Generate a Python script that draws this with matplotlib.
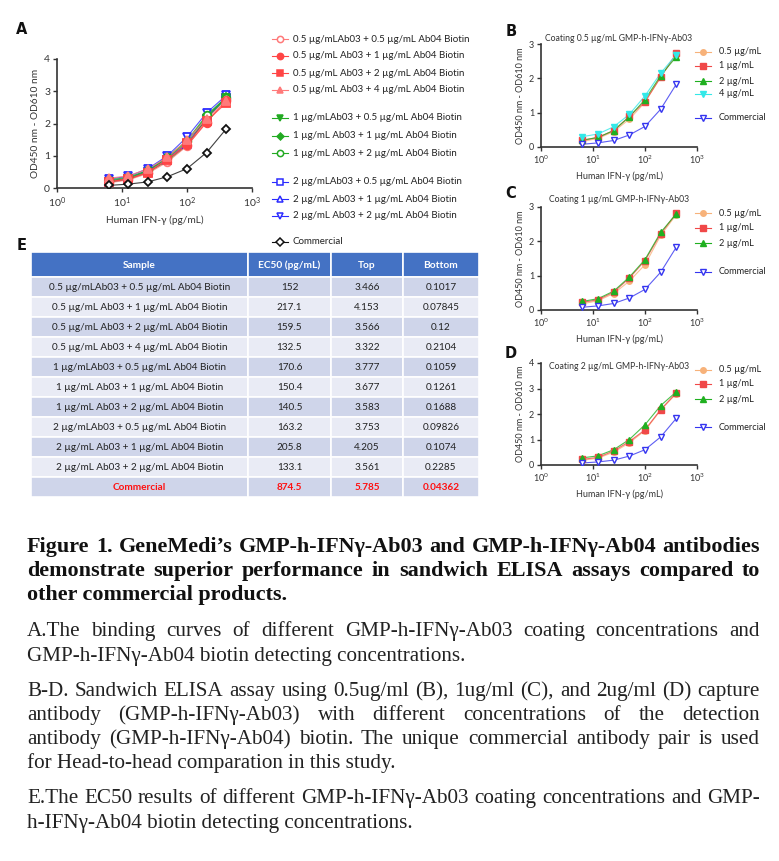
import matplotlib
matplotlib.use('Agg')
import matplotlib.pyplot as plt
from matplotlib.patches import Rectangle
from matplotlib.ticker import NullLocator

W, H = 779, 861
plt.rcParams['font.family'] = ['Lato', 'DejaVu Sans']

# ---------------- data ----------------
conc = [6.25, 12.5, 25, 50, 100, 200, 400]   # Human IFN-g (pg/mL)

# Coating 0.5 ug/mL Ab03 + detection Ab04 biotin
b_05 = [0.16, 0.25, 0.45, 0.81, 1.30, 2.05, 2.69]
b_1 = [0.19, 0.28, 0.48, 0.89, 1.32, 2.03, 2.73]
b_2 = [0.20, 0.28, 0.48, 0.88, 1.38, 2.08, 2.63]
b_4 = [0.30, 0.38, 0.59, 0.95, 1.49, 2.15, 2.69]
# Coating 1 ug/mL
c_05 = [0.18, 0.27, 0.48, 0.84, 1.32, 2.17, 2.78]
c_1 = [0.22, 0.30, 0.52, 0.93, 1.44, 2.22, 2.82]
c_2 = [0.25, 0.33, 0.55, 0.96, 1.47, 2.26, 2.80]
# Coating 2 ug/mL
d_05 = [0.18, 0.27, 0.50, 0.87, 1.35, 2.15, 2.80]
d_1 = [0.22, 0.30, 0.55, 0.92, 1.38, 2.17, 2.83]
d_2 = [0.28, 0.36, 0.60, 1.00, 1.58, 2.33, 2.87]
commercial = [0.08, 0.12, 0.19, 0.35, 0.60, 1.10, 1.83]

a_labels = [
    "0.5 µg/mLAb03 + 0.5 µg/mL Ab04 Biotin",
    "0.5 µg/mL Ab03 + 1 µg/mL Ab04 Biotin",
    "0.5 µg/mL Ab03 + 2 µg/mL Ab04 Biotin",
    "0.5 µg/mL Ab03 + 4 µg/mL Ab04 Biotin",
    "1 µg/mLAb03 + 0.5 µg/mL Ab04 Biotin",
    "1 µg/mL Ab03 + 1 µg/mL Ab04 Biotin",
    "1 µg/mL Ab03 + 2 µg/mL Ab04 Biotin",
    "2 µg/mLAb03 + 0.5 µg/mL Ab04 Biotin",
    "2 µg/mL Ab03 + 1 µg/mL Ab04 Biotin",
    "2 µg/mL Ab03 + 2 µg/mL Ab04 Biotin",
    "Commercial",
]
det_labels = ["0.5 µg/mL", "1 µg/mL", "2 µg/mL", "4 µg/mL"]

tbl_header = ["Sample", "EC50 (pg/mL)", "Top", "Bottom"]
tbl_sample = a_labels
tbl_ec50 = [152, 217.1, 159.5, 132.5, 170.6, 150.4, 140.5, 163.2, 205.8, 133.1, 874.5]
tbl_top = [3.466, 4.153, 3.566, 3.322, 3.777, 3.677, 3.583, 3.753, 4.205, 3.561, 5.785]
tbl_bottom = [0.1017, 0.07845, 0.12, 0.2104, 0.1059, 0.1261, 0.1688, 0.09826, 0.1074, 0.2285, 0.04362]

# ---------------- figure ----------------
fig = plt.figure(figsize=(W / 100, H / 100), dpi=100)


def px_axes(x0, y0, x1, y1):
    return fig.add_axes([x0 / W, 1 - y1 / H, (x1 - x0) / W, (y1 - y0) / H])


def style(ax, ymax, fs=6.5):
    ax.set_xscale('log')
    ax.set_xlim(1, 1000)
    ax.set_ylim(0, ymax)
    ax.set_xticks([1, 10, 100, 1000])
    ax.set_yticks(list(range(0, ymax + 1)))
    ax.xaxis.set_minor_locator(NullLocator())
    for s in ['top', 'right']:
        ax.spines[s].set_visible(False)
    for s in ['left', 'bottom']:
        ax.spines[s].set_linewidth(1.2)
        ax.spines[s].set_color('#333333')
    ax.tick_params(which='major', length=3, width=1.0, labelsize=fs, pad=2,
                   color='#333333', labelcolor='#333333')
    ax.set_facecolor('none')


# Panel A styles: (data, color, marker, filled)
red_l = '#FF7A7A'
red = '#FF4545'
green = '#22AA22'
blue = '#2B2BFF'
a_series = [
    (b_05, red_l, 'o', False),
    (b_1, red, 'o', True),
    (b_2, red, 's', True),
    (b_4, red_l, '^', True),
    (c_05, green, 'v', True),
    (c_1, green, 'D', True),
    (c_2, green, 'o', False),
    (d_05, blue, 's', False),
    (d_1, blue, '^', False),
    (d_2, blue, 'v', False),
    (commercial, '#111111', 'D', False),
]

axA = px_axes(57, 59, 252, 188)
style(axA, 4, fs=7.5)
order = [7, 8, 9, 4, 5, 6, 0, 1, 2, 3, 10]
for i in order:
    ys, col, mk, filled = a_series[i]
    ms = 4 if mk == 'D' and i != 10 else 5.5
    if i == 10:
        ms = 4.5
    axA.plot(conc, ys, color=col, lw=0.8, alpha=0.8, zorder=2)
    axA.plot(conc, ys, ls='none', marker=mk, ms=ms, mec=col,
             mfc=col if filled else 'white', mew=1.3, zorder=3)
axA.set_xlabel("Human IFN-γ (pg/mL)", fontsize=7.3, color='#333333', labelpad=4)
axA.set_ylabel("OD450 nm - OD610 nm", fontsize=7.3, color='#333333', labelpad=3)

# Panels B-D
orange = '#F7B27A'
redB = '#F04848'
greenB = '#20B020'
cyan = '#33E8E8'
blueC = '#3535F0'
bd_styles = [(orange, 'o'), (redB, 's'), (greenB, '^'), (cyan, 'v')]


def panel(ax, series, ymax, title, title_y):
    style(ax, ymax)
    for ys, (col, mk) in zip(series, bd_styles):
        ax.plot(conc, ys, color=col, lw=0.8, alpha=0.8, zorder=2)
        ax.plot(conc, ys, ls='none', marker=mk, ms=4, mec=col, mfc=col, zorder=3)
    ax.plot(conc, commercial, color=blueC, lw=0.8, alpha=0.8, zorder=2)
    ax.plot(conc, commercial, ls='none', marker='v', ms=4.5, mec=blueC,
            mfc='white', mew=1.0, zorder=3)
    ax.set_xlabel("Human IFN-γ (pg/mL)", fontsize=6.5, color='#333333', labelpad=4)
    ax.set_ylabel("OD450 nm - OD610 nm", fontsize=6.5, color='#333333', labelpad=3)
    ax.text(0.5, title_y, title, transform=ax.transAxes, ha='center', va='center',
            fontsize=6.2, color='#333333')


axB = px_axes(541, 44, 697, 147)
panel(axB, [b_05, b_1, b_2, b_4], 3, "Coating 0.5 µg/mL GMP-h-IFNγ-Ab03", 1.05)
axC = px_axes(541, 207, 697, 310)
panel(axC, [c_05, c_1, c_2], 3, "Coating 1 µg/mL GMP-h-IFNγ-Ab03", 1.07)
axD = px_axes(541, 363, 697, 465)
panel(axD, [d_05, d_1, d_2], 4, "Coating 2 µg/mL GMP-h-IFNγ-Ab03", 0.97)

# ---------------- overlay (legends, table, caption) ----------------
ov = fig.add_axes([0, 0, 1, 1], zorder=10)
ov.set_xlim(0, W)
ov.set_ylim(H, 0)
ov.axis('off')
ov.patch.set_alpha(0)

# panel letters
for lab, (x, y) in zip("ABCDE", [(22, 30), (511, 31), (511, 193), (511, 353), (22, 246)]):
    ov.text(x, y, lab, fontsize=10.5, fontweight='bold', ha='center', va='center',
            color='#111111', family=['DejaVu Sans'])

# legend A
a_leg_y = [39, 56, 73, 90, 118, 136, 153, 182, 199, 216, 242]
for (ys, col, mk, filled), lab, y in zip(a_series, a_labels, a_leg_y):
    ms = 3.5 if (mk == 'D' and col != '#111111') else 4.5
    ov.plot([272, 288], [y, y], color=col, lw=0.8)
    ov.plot([280], [y], marker=mk, ms=ms, mec=col, mfc=col if filled else 'white', mew=1.1)
    ov.text(293, y, lab, fontsize=7, va='center', ha='left', color='#222222')


def bd_legend(ys_list, y_com, n):
    for (col, mk), lab, y in zip(bd_styles[:n], det_labels[:n], ys_list):
        ov.plot([695, 711], [y, y], color=col, lw=0.8)
        ov.plot([703], [y], marker=mk, ms=4, mec=col, mfc=col)
        ov.text(719, y, lab, fontsize=6.6, va='center', ha='left', color='#222222')
    ov.plot([695, 711], [y_com, y_com], color=blueC, lw=0.8)
    ov.plot([703], [y_com], marker='v', ms=4.5, mec=blueC, mfc='white', mew=1.0)
    ov.text(719, y_com, "Commercial", fontsize=6.6, va='center', ha='left', color='#222222')


bd_legend([52, 66, 81, 94], 118, 4)
bd_legend([213, 228, 243], 272, 3)
bd_legend([370, 384, 399], 427, 3)

# table E
col_edges = [31, 248, 331, 403, 479]
row_edges = [252, 277, 297, 317, 337, 357, 377, 397, 417, 437, 457, 477, 497]
for j in range(4):
    x0, x1 = col_edges[j], col_edges[j + 1]
    ov.add_patch(Rectangle((x0, row_edges[0]), x1 - x0, row_edges[1] - row_edges[0],
                           facecolor='#4472C4', edgecolor='white', lw=1.2))
    ov.text((x0 + x1) / 2, (row_edges[0] + row_edges[1]) / 2 + 0.5, tbl_header[j],
            fontsize=7.3, fontweight='bold', color='white', ha='center', va='center')
for i in range(len(tbl_sample)):
    y0, y1 = row_edges[i + 1], row_edges[i + 2]
    fc = '#CFD5EA' if i % 2 == 0 else '#E9EBF5'
    last = (i == len(tbl_sample) - 1)
    vals = [tbl_sample[i], '{:g}'.format(tbl_ec50[i]), '{:g}'.format(tbl_top[i]),
            '{:g}'.format(tbl_bottom[i])]
    for j in range(4):
        x0, x1 = col_edges[j], col_edges[j + 1]
        ov.add_patch(Rectangle((x0, y0), x1 - x0, y1 - y0, facecolor=fc,
                               edgecolor='white', lw=1.2))
        ov.text((x0 + x1) / 2, (y0 + y1) / 2 + 0.5, vals[j], fontsize=7.2,
                color='#FF1010' if last else '#222222',
                fontweight='bold' if last else 'normal', ha='center', va='center')

# caption
renderer = fig.canvas.get_renderer()
LEFT, RIGHT = 27, 760
serif = ['Liberation Serif', 'DejaVu Serif']


def text_w(s, **kw):
    t = ov.text(0, 0, s, **kw)
    w = t.get_window_extent(renderer).width
    t.remove()
    return w


def fit_size(lines, base=10, **kw):
    ws = [text_w(s, fontsize=base, **kw) for s in lines]
    return base * (RIGHT - LEFT) / max(ws) * 0.995


def draw_line(s, y, justify, **kw):
    if not justify:
        ov.text(LEFT, y, s, ha='left', va='baseline', **kw)
        return
    words = s.split(' ')
    ws = [text_w(w, **kw) for w in words]
    gap = (RIGHT - LEFT - sum(ws)) / (len(words) - 1)
    x = LEFT
    for w, wd in zip(words, ws):
        ov.text(x, y, w, ha='left', va='baseline', **kw)
        x += wd + gap


title_lines = [
    "Figure 1. GeneMedi’s GMP-h-IFNγ-Ab03 and GMP-h-IFNγ-Ab04 antibodies",
    "demonstrate superior performance in sandwich ELISA assays compared to",
    "other commercial products.",
]
paras = [
    (["A.The binding curves of different GMP-h-IFNγ-Ab03 coating concentrations and",
      "GMP-h-IFNγ-Ab04 biotin detecting concentrations."], [636, 660.5]),
    (["B-D. Sandwich ELISA assay using 0.5ug/ml (B), 1ug/ml (C), and 2ug/ml (D) capture",
      "antibody (GMP-h-IFNγ-Ab03) with different concentrations of the detection",
      "antibody (GMP-h-IFNγ-Ab04) biotin. The unique commercial antibody pair is used",
      "for Head-to-head comparation in this study."], [696, 720, 744, 768]),
    (["E.The EC50 results of different GMP-h-IFNγ-Ab03 coating concentrations and GMP-",
      "h-IFNγ-Ab04 biotin detecting concentrations."], [803, 828]),
]

bfs = min(fit_size(title_lines[:2], fontweight='bold', family=serif), 17)
bold_kw = dict(fontsize=bfs, fontweight='bold', family=serif, color='#111111')
just_lines = [l for lines, _ in paras for l in lines[:-1]]
nfs = min(fit_size(just_lines, family=serif), 16)
norm_kw = dict(fontsize=nfs, family=serif, color='#222222')

for k, (s, y) in enumerate(zip(title_lines, [552, 576, 600])):
    draw_line(s, y, k < 2, **bold_kw)
for lines, ys in paras:
    for k, (s, y) in enumerate(zip(lines, ys)):
        draw_line(s, y, k < len(lines) - 1, **norm_kw)

fig.savefig('out.png', dpi=100)
